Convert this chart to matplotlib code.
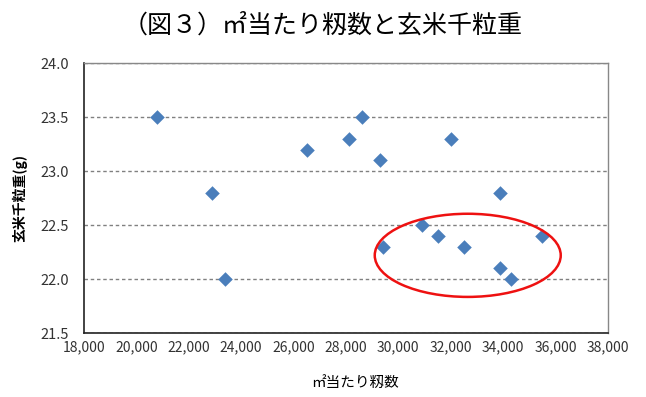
import matplotlib.pyplot as plt
from matplotlib.patches import Ellipse
from matplotlib.ticker import FuncFormatter

plt.rcParams['font.family'] = ['Noto Sans CJK JP', 'DejaVu Sans']

# m2 per spikelet count vs 1000-grain weight of brown rice
momi_per_m2 = [20800, 22900, 23400, 26500, 28100, 28600, 29300, 29400,
               30900, 31500, 32000, 32500, 33900, 33900, 34300, 35500]
grain_weight = [23.5, 22.8, 22.0, 23.2, 23.3, 23.5, 23.1, 22.3,
                22.5, 22.4, 23.3, 22.3, 22.8, 22.1, 22.0, 22.4]

x_ticks = list(range(18000, 38001, 2000))
y_ticks = [21.5, 22.0, 22.5, 23.0, 23.5, 24.0]

title = '（図３）㎡当たり籾数と玄米千粒重'
xlabel = '㎡当たり籾数'
ylabel = '玄米千粒重(g)'

fig = plt.figure(figsize=(6.46, 3.97), dpi=100)
ax = fig.add_axes([0.130, 0.161, 0.811, 0.680])

ax.scatter(momi_per_m2, grain_weight, marker='D', s=55, color='#4a7ebb',
           zorder=3, linewidths=0)

# highlight ring around the lower-right cluster
ax.add_patch(Ellipse((32650, 22.22), 7100, 0.77, fill=False,
                     edgecolor='#ee1111', linewidth=1.8, zorder=4))

ax.set_xlim(18000, 38000)
ax.set_ylim(21.5, 24.0)
ax.set_xticks(x_ticks)
ax.set_yticks(y_ticks)
ax.xaxis.set_major_formatter(FuncFormatter(lambda v, p: f'{int(v):,}'))
ax.yaxis.set_major_formatter(FuncFormatter(lambda v, p: f'{v:.1f}'))
ax.tick_params(length=0, colors='#333333')
ax.tick_params(axis='x', labelsize=10, pad=5)
ax.tick_params(axis='y', labelsize=10.5, pad=11)

ax.grid(axis='y', linestyle=(0, (2.5, 2)), color='#808080', linewidth=1)
ax.set_axisbelow(True)

for side in ['top', 'right']:
    ax.spines[side].set_color('#888888')
    ax.spines[side].set_linewidth(1)
for side in ['left', 'bottom']:
    ax.spines[side].set_color('#222222')
    ax.spines[side].set_linewidth(1.2)

fig.text(0.5, 0.935, title, ha='center', va='center', fontsize=18)
fig.text(0.55, 0.035, xlabel, ha='center', va='center', fontsize=10.5)
fig.text(0.031, 0.5, ylabel, ha='center', va='center', rotation=90,
         fontsize=10, fontweight='bold')

fig.savefig('out.png', dpi=100)
